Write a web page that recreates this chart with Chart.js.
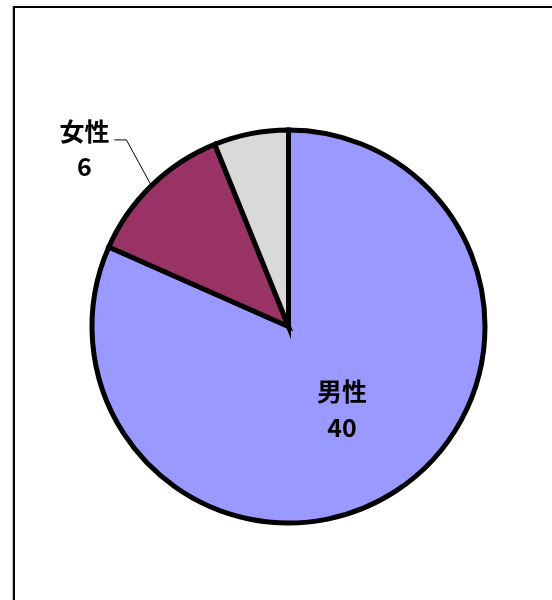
<!DOCTYPE html>
<html>
<head>
<meta charset="utf-8">
<script src="https://cdn.jsdelivr.net/npm/chart.js@4/dist/chart.umd.min.js"></script>
<style>
  body { margin: 0; background: #fff; }
  #wrap { position: relative; width: 552px; height: 600px; overflow: hidden; }
  #frame {
    position: absolute; left: 13px; top: 6px; width: 700px; height: 700px;
    border: 2px solid #000; box-shadow: -1px 0 0 #c0c0c0;
  }
  #pie { position: absolute; left: 0; top: 0; }
</style>
</head>
<body>
<div id="wrap">
  <div id="frame"></div>
  <canvas id="pie" width="552" height="600"></canvas>
</div>
<script>
const categories = ['男性', '女性', '不明'];
const counts = [40, 6, 3];
const showLabel = [true, true, false];
const sliceColors = ['#9999FF', '#993366', '#D9D9D9'];

const labelFont = 'bold 25px "Noto Sans CJK JP", "Noto Sans", sans-serif';

// draws the category/value text, inside the big slice, outside with a leader line otherwise
const sliceLabels = {
  id: 'sliceLabels',
  afterDatasetsDraw(chart) {
    const ctx = chart.ctx
    const arcs = chart.getDatasetMeta(0).data
    ctx.save()
    ctx.font = labelFont
    ctx.fillStyle = '#000'
    ctx.textBaseline = 'middle'
    arcs.forEach((arc, i) => {
      if (!showLabel[i]) return
      const mid = (arc.startAngle + arc.endAngle) / 2
      const dx = Math.cos(mid), dy = Math.sin(mid)
      const share = counts[i] / counts.reduce((a, b) => a + b, 0)
      if (share > 0.3) {
        const x = arc.x + dx * arc.outerRadius * 0.5
        const y = arc.y + dy * arc.outerRadius * 0.5
        ctx.textAlign = 'center'
        ctx.fillText(categories[i], x, y - 17)
        ctx.fillText(String(counts[i]), x, y + 19)
      } else {
        const ex = arc.x + dx * (arc.outerRadius + 2)
        const ey = arc.y + dy * (arc.outerRadius + 2)
        const kx = ex - 24, ky = ey - 44
        ctx.strokeStyle = '#000'
        ctx.lineWidth = 1
        ctx.beginPath()
        ctx.moveTo(ex, ey)
        ctx.lineTo(kx, ky)
        ctx.lineTo(kx - 12, ky)
        ctx.stroke()
        ctx.textAlign = 'center'
        ctx.fillText(categories[i], kx - 42, ky - 8)
        ctx.fillText(String(counts[i]), kx - 42, ky + 27)
      }
    })
    ctx.restore()
  }
}

const pieConfig = {
  type: 'pie',
  data: {
    labels: categories,
    datasets: [
      {
        data: counts,
        backgroundColor: sliceColors,
        borderColor: '#000',
        borderWidth: 5,
        borderJoinStyle: 'miter',
      },
    ],
  },
  options: {
    responsive: false,
    animation: false,
    layout: {
      padding: { left: 89.5, right: 64.5, top: 127.5, bottom: 74.5 },
    },
    plugins: {
      legend: { display: false },
      tooltip: { enabled: false },
    },
  },
  plugins: [sliceLabels],
}

const pieCtx = document.getElementById('pie')
window.myPie = new Chart(pieCtx, pieConfig)
</script>
</body>
</html>
